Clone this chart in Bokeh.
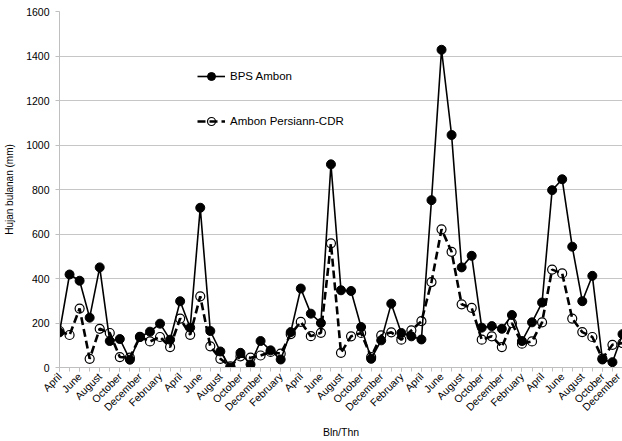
import math
from bokeh.plotting import figure
from bokeh.models import Range1d, FixedTicker, Legend, LegendItem
from bokeh.embed import file_html
from bokeh.resources import INLINE

# Monthly categories, April (year 1) to December (year 5)
months = [
    "April", "May", "June", "July", "August", "September", "October", "November", "December",
    "January", "February", "March", "April", "May", "June", "July", "August", "September",
    "October", "November", "December", "January", "February", "March", "April", "May", "June",
    "July", "August", "September", "October", "November", "December", "January", "February",
    "March", "April", "May", "June", "July", "August", "September", "October", "November",
    "December", "January", "February", "March", "April", "May", "June", "July", "August",
    "September", "October", "November", "December",
]

bps_ambon = [
    158, 418, 390, 224, 450, 119, 128, 35, 137, 161, 197, 125, 298, 179, 718, 164, 72, 0,
    66, 14, 119, 77, 36, 159, 355, 242, 200, 913, 347, 344, 182, 39, 122, 287, 155, 140,
    126, 752, 1428, 1045, 450, 502, 179, 186, 174, 236, 119, 203, 292, 797, 846, 543, 298,
    412, 36, 24, 150,
]

persiann_cdr = [
    164, 146, 265, 39, 174, 155, 47, 44, 138, 117, 137, 92, 220, 147, 320, 95, 39, 5,
    50, 44, 54, 70, 62, 150, 205, 141, 156, 558, 66, 140, 155, 47, 144, 158, 125, 167,
    208, 384, 621, 520, 284, 268, 125, 140, 92, 200, 107, 117, 203, 440, 423, 220, 159,
    137, 40, 102, 110,
]

y_ticks = [0, 200, 400, 600, 800, 1000, 1200, 1400, 1600]

FONT = "Liberation Sans"
AXIS_GRAY = "#bfbfbf"

x = list(range(len(months)))

p = figure(
    width=622, height=441,
    output_backend="svg", toolbar_location=None,
    x_range=Range1d(0, len(months) - 1), y_range=Range1d(0, 1600),
    min_border_left=59, min_border_right=0, min_border_top=11, min_border_bottom=73,
)
p.outline_line_color = None
p.background_fill_color = "white"
p.border_fill_color = "white"

r1 = p.line(x, bps_ambon, line_color="black", line_width=1.6)
s1 = p.scatter(x, bps_ambon, size=9, fill_color="black", line_color="black")
r2 = p.line(x, persiann_cdr, line_color="black", line_width=2.6, line_dash="8 4")
s2 = p.scatter(x, persiann_cdr, size=9, fill_alpha=0, line_color="black", line_width=1.2)

legend = Legend(
    items=[
        LegendItem(label="BPS Ambon", renderers=[r1, s1]),
        LegendItem(label="Ambon Persiann-CDR", renderers=[r2, s2]),
    ],
    location=(138, 236), orientation="vertical",
    spacing=25, glyph_width=28, glyph_height=20, label_height=20,
    label_standoff=5, padding=0, margin=0,
    background_fill_alpha=0, border_line_alpha=0,
    label_text_font=FONT, label_text_font_size="11.5px", label_text_color="black",
)
p.add_layout(legend)

# x axis
p.xaxis.ticker = FixedTicker(ticks=list(range(0, len(months), 2)), minor_ticks=x)
p.xaxis.major_label_overrides = {i: months[i] for i in range(0, len(months), 2)}
p.xaxis.major_label_orientation = math.pi / 4
p.xaxis.major_tick_in = 0
p.xaxis.major_tick_out = 4
p.xaxis.minor_tick_in = 0
p.xaxis.minor_tick_out = 4
p.xaxis.axis_line_color = AXIS_GRAY
p.xaxis.major_tick_line_color = AXIS_GRAY
p.xaxis.minor_tick_line_color = AXIS_GRAY
p.xaxis.major_label_text_font = FONT
p.xaxis.major_label_text_font_size = "10.5px"
p.xaxis.major_label_text_color = "black"
p.xaxis.major_label_standoff = 3
p.xaxis.axis_label = "Bln/Thn"
p.xaxis.axis_label_text_font = FONT
p.xaxis.axis_label_text_font_size = "10.5px"
p.xaxis.axis_label_text_font_style = "normal"
p.xaxis.axis_label_text_color = "black"
p.xaxis.axis_label_standoff = 6

# y axis
p.yaxis.ticker = FixedTicker(ticks=y_ticks, minor_ticks=[])
p.yaxis.major_tick_in = 0
p.yaxis.major_tick_out = 4
p.yaxis.axis_line_color = AXIS_GRAY
p.yaxis.major_tick_line_color = AXIS_GRAY
p.yaxis.major_label_text_font = FONT
p.yaxis.major_label_text_font_size = "10.5px"
p.yaxis.major_label_text_color = "black"
p.yaxis.major_label_standoff = 6
p.yaxis.axis_label = "Hujan bulanan (mm)"
p.yaxis.axis_label_text_font = FONT
p.yaxis.axis_label_text_font_size = "10px"
p.yaxis.axis_label_text_font_style = "normal"
p.yaxis.axis_label_text_color = "black"
p.yaxis.axis_label_standoff = 8

p.xgrid.visible = False
p.ygrid.ticker = FixedTicker(ticks=y_ticks)
p.ygrid.grid_line_color = "#c6c6c6"
p.ygrid.grid_line_width = 1

open("out.html", "w").write(file_html(p, INLINE))
